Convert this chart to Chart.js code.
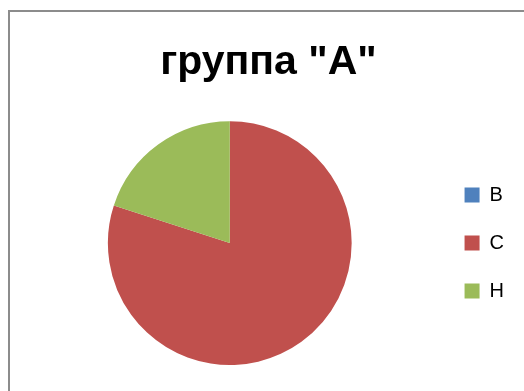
<!DOCTYPE html>
<html>
<head>
<meta charset="utf-8">
<script src="https://cdn.jsdelivr.net/npm/chart.js@4/dist/chart.umd.min.js"></script>
<style>
  html, body { margin: 0; padding: 0; background: #fff; overflow: hidden; }
  #frame {
    position: absolute; left: 8px; top: 10px;
    width: 520px; height: 390px;
    border: 2px solid #8c8c8c; background: #fff;
  }
  #pie { display: block; }
</style>
</head>
<body>
<div id="frame"><canvas id="pie" width="520" height="390"></canvas></div>
<script>
let groupLabels = ["B", "C", "H"];
let groupValues = [0, 80, 20];
let groupColors = ["#4F81BD", "#C0504D", "#9BBB59"];
let chartTitle = 'группа "А"';

function loadGraph(){
  var ctx = document.getElementById('pie');
  var myChart = new Chart(ctx, {
    type: 'pie',
    data: {
      labels: groupLabels,
      datasets: [{
        data: groupValues,
        backgroundColor: groupColors,
        borderWidth: 0
      }]
    },
    options: {
      responsive: false,
      animation: false,
      layout: { padding: { left: 13, right: 16, top: 0, bottom: 37 } },
      plugins: {
        title: {
          display: true,
          text: chartTitle,
          color: '#000',
          font: { family: 'Liberation Sans', size: 41, weight: 'bold', lineHeight: 1.2 },
          padding: { top: 26, bottom: 34 }
        },
        legend: {
          position: 'right',
          fullSize: false,
          labels: {
            color: '#000',
            boxWidth: 15,
            boxHeight: 15,
            padding: 28,
            font: { family: 'Liberation Sans', size: 20 }
          }
        },
        tooltip: { enabled: false }
      }
    }
  });
}

loadGraph();
</script>
</body>
</html>
